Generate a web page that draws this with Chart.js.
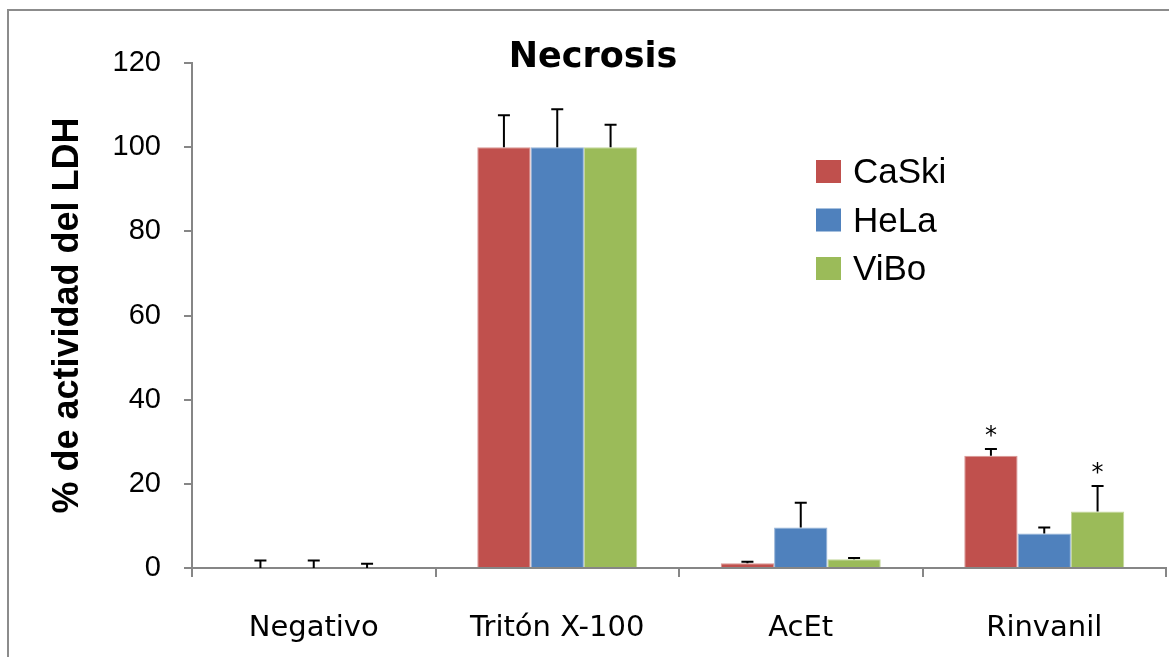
<!DOCTYPE html>
<html>
<head>
<meta charset="utf-8">
<script src="https://cdn.jsdelivr.net/npm/chart.js@4.4.0/dist/chart.umd.min.js"></script>
<style>
html, body { margin: 0; padding: 0; background: #fff; }
#wrap { position: relative; width: 1169px; height: 657px; overflow: hidden; }
</style>
</head>
<body>
<div id="wrap"><canvas id="NecrosisChart" width="1169" height="657"></canvas></div>
<script>
// data
var Categories = ["Negativo", "Tritón X-100", "AcEt", "Rinvanil"];
var CaSki = [0, 100, 1.1, 26.7];
var HeLa = [0, 100, 9.6, 8.2];
var ViBo = [0, 100, 2.1, 13.4];
var CaSkiErr = [1.8, 7.6, 0.4, 1.6];
var HeLaErr = [1.8, 9.0, 5.9, 1.4];
var ViBoErr = [1.0, 5.3, 0.3, 6.1];
var CaSkiStar = [false, false, false, true];
var HeLaStar = [false, false, false, false];
var ViBoStar = [false, false, false, true];
var YTicks = [0, 20, 40, 60, 80, 100, 120];

var AxisGrey = '#868686';

// outer frame of the chart object
var frame = {
    id: 'frame',
    beforeDraw: function (chart) {
        var ctx = chart.ctx;
        ctx.save();
        ctx.fillStyle = '#fff';
        ctx.fillRect(0, 0, chart.width, chart.height);
        ctx.strokeStyle = '#8c8c8c';
        ctx.lineWidth = 2;
        ctx.strokeRect(8, 10, 1400, 900);
        ctx.restore();
    }
};

// upper error bars + significance stars
var errorBars = {
    id: 'errorBars',
    afterDatasetsDraw: function (chart) {
        var ctx = chart.ctx, y = chart.scales.y;
        ctx.save();
        chart.data.datasets.forEach(function (ds, i) {
            var meta = chart.getDatasetMeta(i);
            meta.data.forEach(function (bar, j) {
                var base = y.getPixelForValue(ds.data[j]);
                var top = y.getPixelForValue(ds.data[j] + ds.errors[j]);
                ctx.strokeStyle = '#000';
                ctx.lineWidth = 2;
                ctx.beginPath();
                ctx.moveTo(bar.x, base);
                ctx.lineTo(bar.x, top);
                ctx.moveTo(bar.x - 6, top);
                ctx.lineTo(bar.x + 6, top);
                ctx.stroke();
                if (ds.stars[j]) {
                    ctx.fillStyle = '#000';
                    ctx.font = '24px "DejaVu Sans"';
                    ctx.textAlign = 'center';
                    ctx.textBaseline = 'alphabetic';
                    ctx.fillText('*', bar.x, top - 6);
                }
            });
        });
        ctx.restore();
    }
};

// title and legend drawn inside the plot like the original
var titleLegend = {
    id: 'titleLegend',
    afterDraw: function (chart) {
        var ctx = chart.ctx;
        ctx.save();
        ctx.fillStyle = '#000';
        ctx.font = 'bold 35px "DejaVu Sans"';
        ctx.textAlign = 'center';
        ctx.textBaseline = 'alphabetic';
        ctx.fillText('Necrosis', 593, 67);

        ctx.textAlign = 'left';
        ctx.font = '35px "Liberation Sans"';
        chart.data.datasets.forEach(function (ds, i) {
            var base = 183 + i * 48.5;
            ctx.fillStyle = ds.backgroundColor;
            ctx.fillRect(816, base - 23, 25, 23);
            ctx.fillStyle = '#000';
            ctx.fillText(ds.label, 853, base);
        });
        ctx.restore();
    }
};

var canvas = document.getElementById("NecrosisChart").getContext('2d');

var myChart = new Chart(canvas, {
    type: 'bar',
    data: {
        labels: Categories,
        datasets: [{
            label: 'CaSki',
            data: CaSki,
            errors: CaSkiErr,
            stars: CaSkiStar,
            backgroundColor: '#C0504D',
            borderColor: '#D99795',
            borderWidth: 1
        }, {
            label: 'HeLa',
            data: HeLa,
            errors: HeLaErr,
            stars: HeLaStar,
            backgroundColor: '#4F81BD',
            borderColor: '#95B3D7',
            borderWidth: 1
        }, {
            label: 'ViBo',
            data: ViBo,
            errors: ViBoErr,
            stars: ViBoStar,
            backgroundColor: '#9BBB59',
            borderColor: '#C3D69B',
            borderWidth: 1
        }]
    },
    options: {
        responsive: false,
        animation: false,
        events: [],
        categoryPercentage: 0.657,
        barPercentage: 1.0,
        layout: { padding: { top: 63, right: 3, left: 0, bottom: 0 } },
        plugins: {
            legend: { display: false },
            title: { display: false },
            tooltip: { enabled: false }
        },
        scales: {
            x: {
                grid: { display: true, drawOnChartArea: false, drawTicks: true, tickLength: 9, color: AxisGrey, lineWidth: 2, offset: true },
                border: { display: true, color: AxisGrey, width: 2 },
                ticks: { color: '#000', font: { family: 'DejaVu Sans', size: 29 }, padding: 34, maxRotation: 0, autoSkip: false },
                afterFit: function (s) { s.height = 89; }
            },
            y: {
                min: 0,
                max: 120,
                afterBuildTicks: function (s) { s.ticks = YTicks.map(function (v) { return { value: v }; }); },
                grid: { display: true, drawOnChartArea: false, drawTicks: true, tickLength: 8, color: AxisGrey, lineWidth: 2 },
                border: { display: true, color: AxisGrey, width: 2 },
                ticks: { color: '#000', font: { family: 'Liberation Sans', size: 29 }, padding: 23 },
                title: {
                    display: true,
                    text: '% de actividad del LDH',
                    color: '#000',
                    font: { family: 'Liberation Sans', size: 36, weight: 'bold' },
                    padding: { top: 46, bottom: 0 }
                },
                afterFit: function (s) { s.width = 192; }
            }
        }
    },
    plugins: [frame, errorBars, titleLegend]
});
</script>
</body>
</html>
